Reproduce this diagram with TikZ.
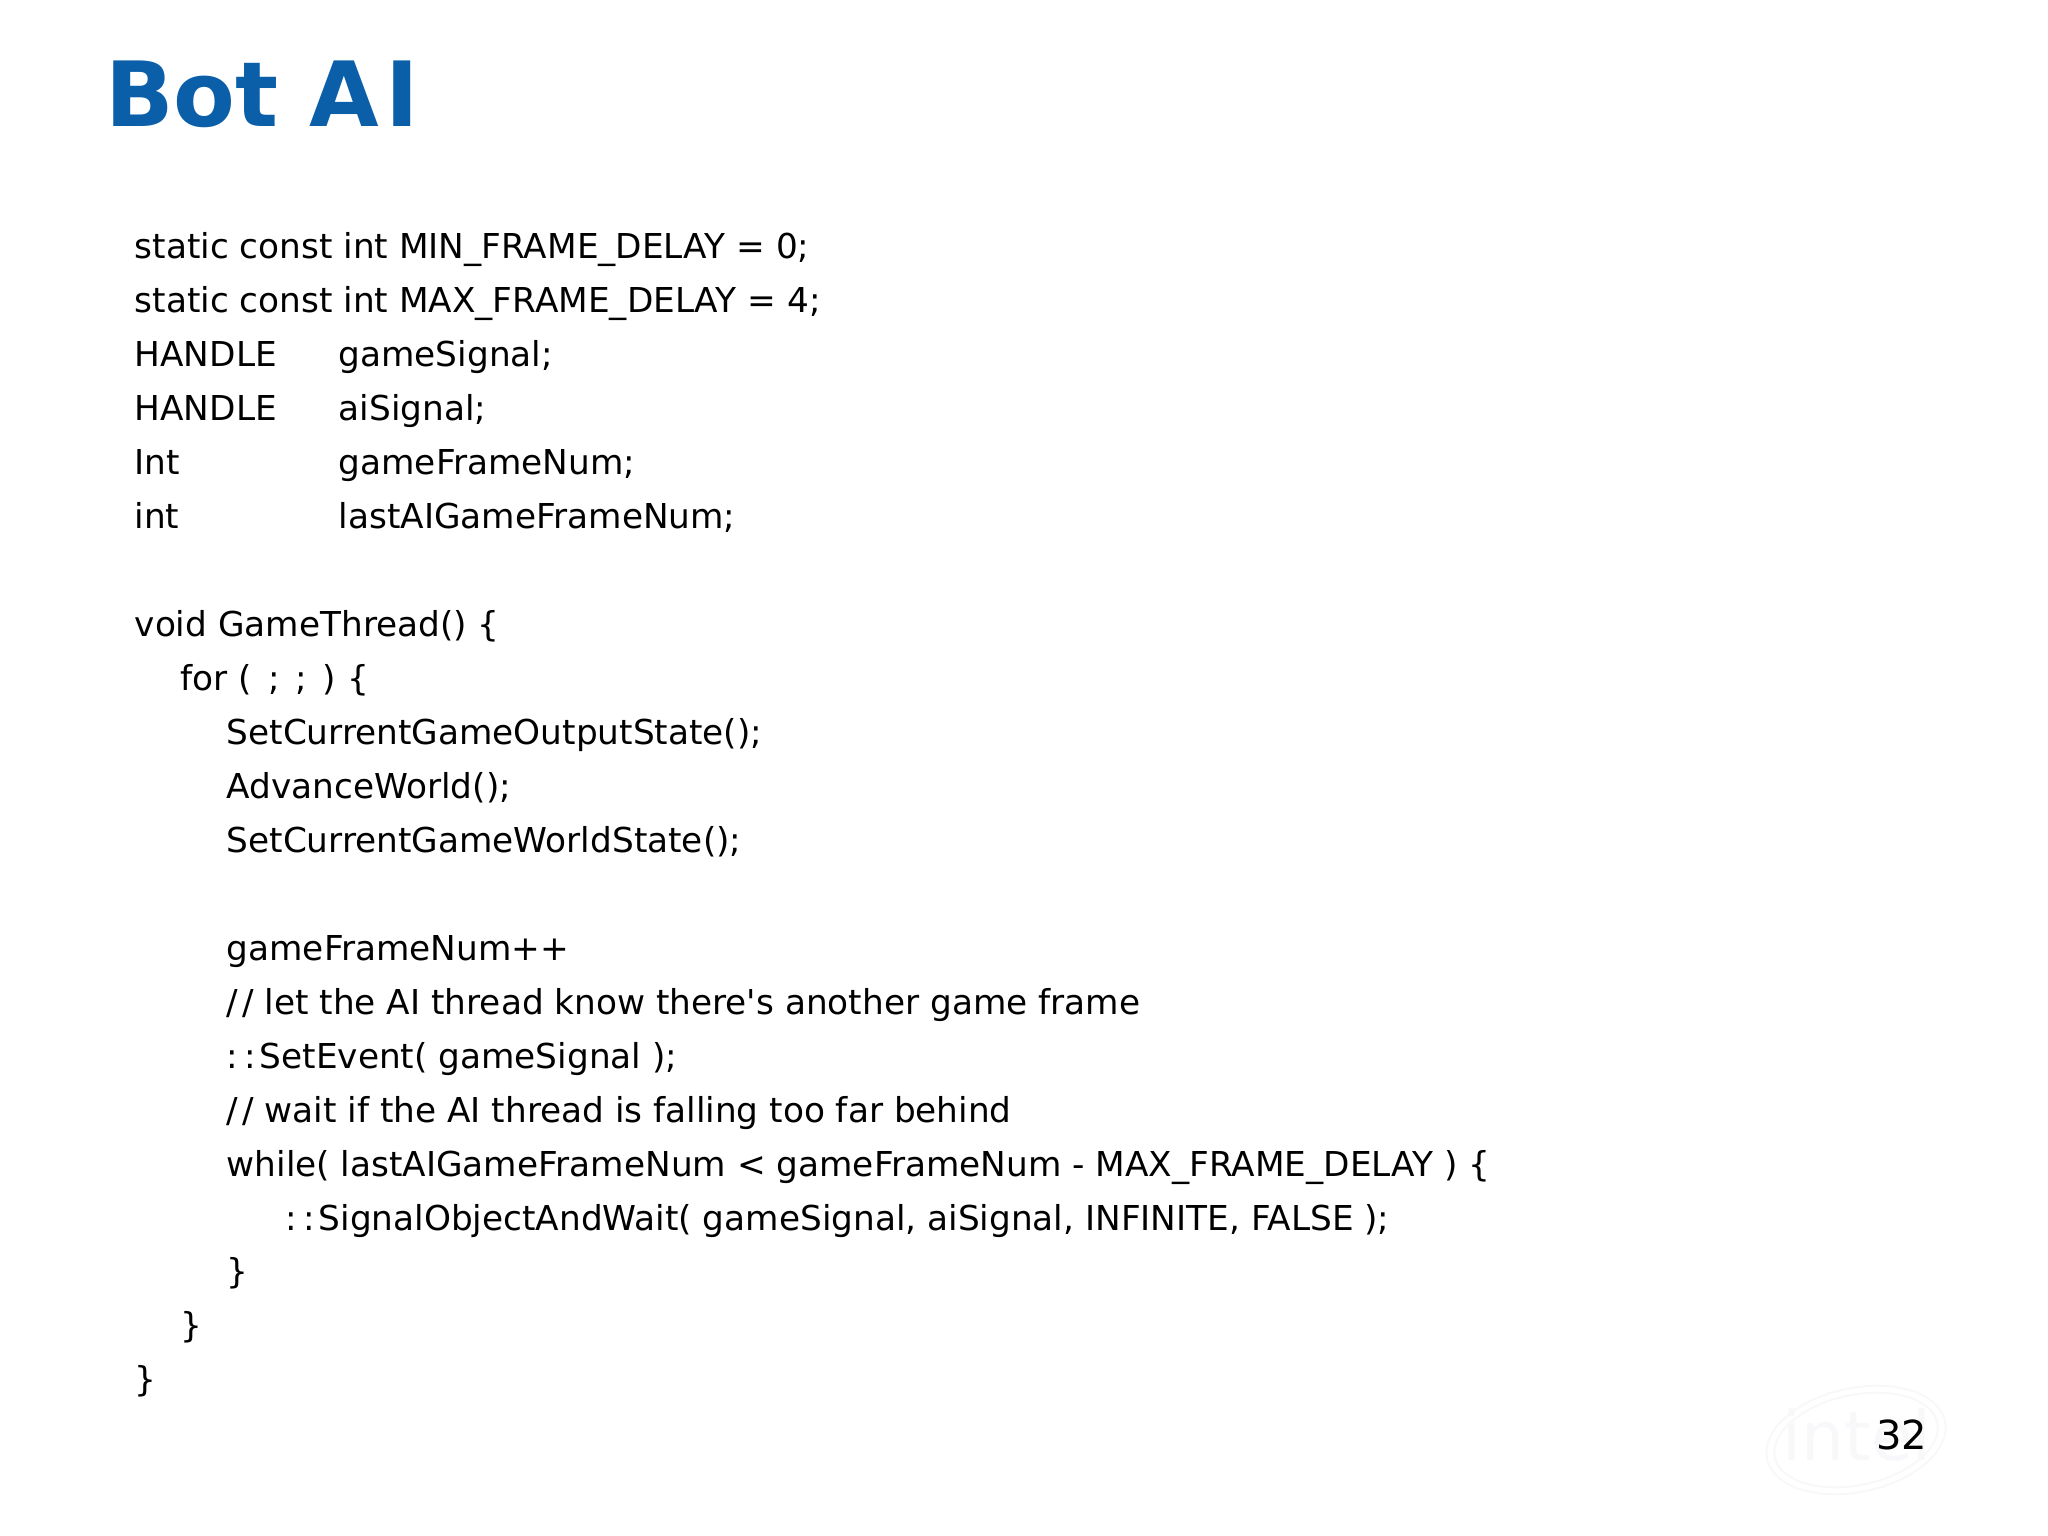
\documentclass[tikz,border=0pt]{standalone}
\usepackage{fontspec}
\setmainfont{DejaVu Sans}[Ligatures=TeXOff]
\usetikzlibrary{positioning,shapes.geometric}
\definecolor{introblue}{HTML}{0A5FA8}
\definecolor{logofaint}{HTML}{F8F8FA}
\newcommand{\decl}[2]{\makebox[204pt][l]{#1}#2}
\newcommand{\dcolon}{:\kern6pt:\kern4pt}
\newcommand{\dslash}{/\kern4pt/}
\tikzset{
    title/.style = {
        anchor=base west,
        inner sep=0pt,
        font=\fontsize{90}{90}\selectfont\bfseries,
        text=introblue,
        },
    codeline/.style = {
        anchor=north west,
        inner sep=0pt,
        text height=26pt,
        text depth=8pt,
        font=\fontsize{34.3}{34.3}\selectfont,
        },
    indent one/.style = {
        xshift=46pt,
        },
    pagenum/.style = {
        anchor=base west,
        inner sep=0pt,
        font=\fontsize{40}{40}\selectfont,
        },
    logo ring/.style = {
        draw=logofaint,
        ellipse,
        line width=2pt,
        inner sep=0pt,
        rotate=12,
        },
}

\begin{document}
\begin{tikzpicture}[x=1pt,y=-1pt,node distance=19.6pt]
            \useasboundingbox (0,0) rectangle (2048,1536);

            \node[title] (title) at (105,127) {Bot A\kern6pt I};

            \node[codeline] (mindelay) at (134.5,232.6) {static const int MIN\_FRAME\_DELAY = 0;};
            \node[below=of mindelay.south west, codeline] (maxdelay) {static const int MAX\_FRAME\_DELAY = 4;};
            \node[below=of maxdelay.south west, codeline] (gamesignal) {\decl{HANDLE}{gameSignal;}};
            \node[below=of gamesignal.south west, codeline] (aisignal) {\decl{HANDLE}{aiSignal;}};
            \node[below=of aisignal.south west, codeline] (framenum) {\decl{Int}{gameFrameNum;}};
            \node[below=of framenum.south west, codeline] (lastframe) {\decl{int}{lastAIGameFrameNum;}};

            \node[below=73.2pt of lastframe.south west, codeline] (gamethread) {void GameThread() \{};
            \node[below=of gamethread.south west, codeline, indent one] (forloop) {for ( \kern5pt; \kern5pt; \kern5pt) \{};
            \node[below=of forloop.south west, codeline, indent one] (output) {SetCurrentGameOutputState();};
            \node[below=of output.south west, codeline] (advance) {AdvanceWorld();};
            \node[below=of advance.south west, codeline] (worldstate) {SetCurrentGameWorldState();};

            \node[below=73.2pt of worldstate.south west, codeline] (increment) {gameFrameNum++};
            \node[below=of increment.south west, codeline] (comment) {\dslash\ let the AI thread know there's another game frame};
            \node[below=of comment.south west, codeline] (setevent) {\dcolon SetEvent( gameSignal );};
            \node[below=of setevent.south west, codeline] (commentb) {\dslash\ wait if the AI thread is falling too far behind};
            \node[below=of commentb.south west, codeline] (while) {while( lastAIGameFrameNum < gameFrameNum - MAX\_FRAME\_DELAY ) \{};
            \node[below=of while.south west, codeline, xshift=59pt] (signalwait) {\dcolon SignalObjectAndWait( gameSignal, aiSignal, INFINITE, FALSE );};
            \node[below=of while.south west, codeline, yshift=-53.6pt] (closewhile) {\}};
            \node[below=of closewhile.south west, codeline, xshift=-46pt] (closefor) {\}};
            \node[below=of closefor.south west, codeline, xshift=-46pt] (closethread) {\}};

            % faint logo behind the page number
            \node[logo ring, minimum width=182pt, minimum height=104pt] (ringouter) at (1856,1440) {};
            \node[logo ring, minimum width=166pt, minimum height=90pt] (ringinner) at (1856,1440) {};
            \node[text=logofaint, font=\fontsize{68}{68}\selectfont] (logotext) at (1857,1435) {intel};

            \node[pagenum] (pagenum) at (1876,1449) {32};
        \end{tikzpicture}
\end{document}
